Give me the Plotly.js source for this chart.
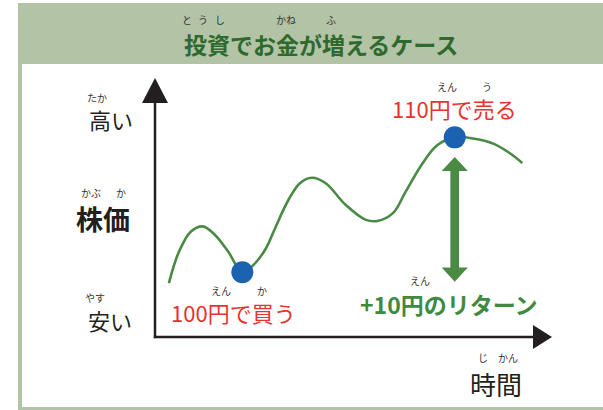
<!DOCTYPE html>
<html>
<head>
<meta charset="utf-8">
<script src="https://cdn.plot.ly/plotly-3.0.1.min.js"></script>
<style>
html,body{margin:0;padding:0;background:#fff;}
#chart{width:603px;height:410px;}
</style>
</head>
<body>
<div id="chart"></div>
<script>
// ---- data ----
const timeValues  = [3.5, 6, 9, 12, 15, 18.5, 22, 25, 28, 30, 33.5, 36.5, 39.5, 43, 48, 53, 56, 60, 63, 67, 71, 75.5, 80.5, 85.5, 89.5, 92.5];
const priceValues = [99.2, 101.5, 103.0, 103.4, 102.8, 101.5, 100, 100.6, 101.8, 103.1, 105.3, 106.6, 107.0, 106.6, 105.0, 103.9, 103.8, 104.4, 105.9, 107.9, 109.4, 110, 109.9, 109.5, 108.8, 108.1];
const buyPoint  = {t: 22, price: 100};
const sellPoint = {t: 75.5, price: 110};
const titleText = "投資でお金が増えるケース";
const yLabels = ["高い", "株価", "安い"];
const xLabel = "時間";
const buyLabel = "100円で買う";
const sellLabel = "110円で売る";
const returnLabel = "+10円のリターン";

// ---- layout geometry (plot box = axes box) ----
const W = 603, H = 410;
const L = 155, R = 552, T = 78, B = 337;
const X = p => (p - L) / (R - L);
const Y = p => (B - p) / (B - T);
const FONT = "Noto Sans CJK JP, Noto Sans, sans-serif";
const frameCol = "#b3c3a5";
const axisCol = "#231f20";
const green = "#3f8a3f";
const red = "#e8322f";

const shapes = [];
// frame
shapes.push({type:"rect", xref:"paper", yref:"paper", x0:X(18), x1:X(610), y0:Y(3), y1:Y(64), fillcolor:frameCol, line:{width:0}, layer:"below"});
shapes.push({type:"rect", xref:"paper", yref:"paper", x0:X(18), x1:X(22), y0:Y(3), y1:Y(410), fillcolor:frameCol, line:{width:0}, layer:"below"});
shapes.push({type:"rect", xref:"paper", yref:"paper", x0:X(18), x1:X(610), y0:Y(407), y1:Y(412), fillcolor:frameCol, line:{width:0}, layer:"below"});
// axes lines + arrowheads
shapes.push({type:"line", xref:"paper", yref:"paper", x0:X(155), x1:X(155), y0:Y(338.2), y1:Y(100), line:{color:axisCol, width:2.5}});
shapes.push({type:"line", xref:"paper", yref:"paper", x0:X(153.8), x1:X(535), y0:Y(337), y1:Y(337), line:{color:axisCol, width:2.5}});
shapes.push({type:"path", xref:"paper", yref:"paper",
  path:`M ${X(142)} ${Y(103)} L ${X(168)} ${Y(103)} L ${X(155)} ${Y(78)} Z`, fillcolor:axisCol, line:{width:0}});
shapes.push({type:"path", xref:"paper", yref:"paper",
  path:`M ${X(533)} ${Y(325)} L ${X(533)} ${Y(349)} L ${X(552)} ${Y(337)} Z`, fillcolor:axisCol, line:{width:0}});

// double-headed return arrow, computed from buy/sell data
const arrX = sellPoint.t, arrTop = sellPoint.price - 1.45, arrBot = buyPoint.price - 0.7;
const hw = 3.3, sw = 1.1, hh = 1.05;
shapes.push({type:"path", xref:"x", yref:"y", fillcolor:"#4a8a45", line:{width:0},
  path:`M ${arrX} ${arrTop} L ${arrX+hw} ${arrTop-hh} L ${arrX+sw} ${arrTop-hh} L ${arrX+sw} ${arrBot+hh} L ${arrX+hw} ${arrBot+hh} L ${arrX} ${arrBot} L ${arrX-hw} ${arrBot+hh} L ${arrX-sw} ${arrBot+hh} L ${arrX-sw} ${arrTop-hh} L ${arrX-hw} ${arrTop-hh} Z`});

const ann = [];
function boxH(size){ return Math.round(size * 1.18); }
function txt(text, x, y, size, color, bold){
  ann.push({xref:"paper", yref:"paper", x:X(x), y:Y(y), text: bold ? "<b>"+text+"</b>" : text, showarrow:false,
    xanchor:"center", yanchor:"middle", height: boxH(size), borderpad:0, valign:"middle",
    font:{family:FONT, size:size, color:color}});
}
const furi = "#333333";
const FS = 10;
// title
txt(titleText, 321, 43, 23, "#2e6a2e", true);
txt("と", 187, 19, FS, furi);
txt("う", 203, 19, FS, furi);
txt("し", 220, 19, FS, furi);
txt("かね", 286, 19, FS, furi);
txt("ふ", 331, 19, FS, furi);
// y labels
txt(yLabels[0], 111, 119, 22, axisCol);
txt("たか", 97, 97, FS, furi);
txt(yLabels[1], 103, 218, 27, axisCol, true);
txt("かぶ", 91, 192, FS, furi);
txt("か", 121, 192, FS, furi);
txt(yLabels[2], 110, 320, 22, axisCol);
txt("やす", 95, 297, FS, furi);
// x label
txt(xLabel, 496, 383, 26, axisCol);
txt("じ", 483, 357, FS, furi);
txt("かん", 508, 357, FS, furi);
// point labels anchored to data
function ptxt(text, pt, xs, ys, size, color, bold){
  ann.push({xref:"x", yref:"y", x:pt.t, y:pt.price, xshift:xs, yshift:ys, text: bold ? "<b>"+text+"</b>" : text,
    showarrow:false, xanchor:"center", yanchor:"middle", height: boxH(size), borderpad:0, valign:"middle",
    font:{family:FONT, size:size, color:color}});
}
ptxt(buyLabel, buyPoint, -9, -40, 22, red);
ptxt("えん", buyPoint, -21, -18, FS, furi);
ptxt("か", buyPoint, 20, -18, FS, furi);
ptxt(sellLabel, sellPoint, 0, 29, 22, red);
ptxt("えん", sellPoint, -8, 51, FS, furi);
ptxt("う", sellPoint, 32, 51, FS, furi);
ptxt(returnLabel, sellPoint, -6, -166, 23, green, true);
ptxt("えん", sellPoint, -35, -143, FS, furi);

const traces = [
  {x: timeValues, y: priceValues, type:"scatter", mode:"lines", line:{color:"#4a8a45", width:2.6, shape:"spline", smoothing:1}, hoverinfo:"skip"},
  {x: [buyPoint.t, sellPoint.t], y: [buyPoint.price, sellPoint.price], type:"scatter", mode:"markers",
   marker:{size:22, color:"#1b62b0"}, cliponaxis:false, hoverinfo:"skip"}
];

const layout = {
  width: W, height: H,
  margin: {l: L, r: W - R, t: T, b: H - B, pad: 0},
  paper_bgcolor: "#ffffff", plot_bgcolor: "rgba(0,0,0,0)",
  showlegend: false,
  xaxis: {range: [0, 100], visible: false, fixedrange: true},
  yaxis: {range: [95.2, 114.4], visible: false, fixedrange: true},
  shapes: shapes,
  annotations: ann
};
Plotly.newPlot("chart", traces, layout, {displayModeBar: false, staticPlot: true});
</script>
</body>
</html>
